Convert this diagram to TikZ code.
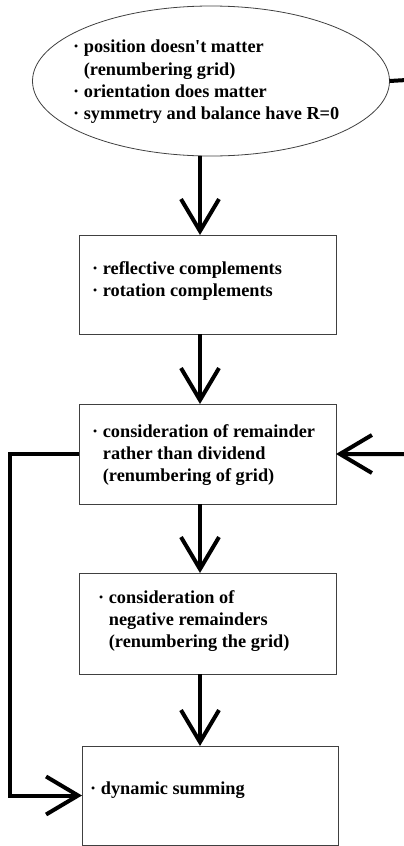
\documentclass[tikz,border=0pt]{standalone}
\usepackage{fontspec}
\setmainfont{Liberation Serif}
\usetikzlibrary{arrows.meta,shapes.geometric}
\begin{document}
\begin{tikzpicture}[x=1pt,y=-1pt,
  boxnode/.style={draw=black!75, line width=0.8pt, rectangle, inner sep=0pt, outer sep=0pt, anchor=north west},
  txt/.style={font=\fontsize{18.3}{22.3}\selectfont\bfseries, align=left, inner sep=0pt, anchor=north west},
  conn/.style={line width=4pt, -{Straight Barb[length=32pt,width=38pt]}}]
\useasboundingbox (0,0) rectangle (404,846);
\node[draw=black!75, line width=0.8pt, ellipse, minimum width=357pt, minimum height=150pt, inner sep=0pt, outer sep=0pt] (ell) at (211,81) {};
\node[boxnode, minimum width=257pt, minimum height=99pt] (b2) at (79,235) {};
\node[boxnode, minimum width=257pt, minimum height=100pt] (b3) at (79,404) {};
\node[boxnode, minimum width=257pt, minimum height=101pt] (b4) at (79,573) {};
\node[boxnode, minimum width=256pt, minimum height=99pt] (b5) at (82,746) {};

\node[txt] (t1) at (73,40) {· position doesn\textquotesingle t matter\\\phantom{· }(renumbering grid)\\· orientation does matter\\· symmetry and balance have R=0};
\node[txt] (t2) at (92,261) {· reflective complements\\· rotation complements};
\node[txt] (t3) at (92,424) {· consideration of remainder\\\phantom{· }rather than dividend\\\phantom{· }(renumbering of grid)};
\node[txt] (t4) at (98,590) {· consideration of\\\phantom{· }negative remainders\\\phantom{· }(renumbering the grid)};
\node[txt] (t5) at (90,782) {· dynamic summing};

\coordinate (ax) at (200,0);
\coordinate (r1) at (424,79);
\coordinate (r2) at (424,454);
\coordinate (l1) at (10,454);

\draw[conn] (ax |- ell.south) -- (ax |- b2.north);
\draw[conn] (ax |- b2.south) -- (ax |- b3.north);
\draw[conn] (ax |- b3.south) -- (ax |- b4.north);
\draw[conn] (ax |- b4.south) -- (ax |- b5.north);
\draw[conn] (ell.east) -- (r1) -- (r2) -- (b3.east);
\draw[conn] (b3.west) -- (l1) |- (b5.west);
\end{tikzpicture}
\end{document}
